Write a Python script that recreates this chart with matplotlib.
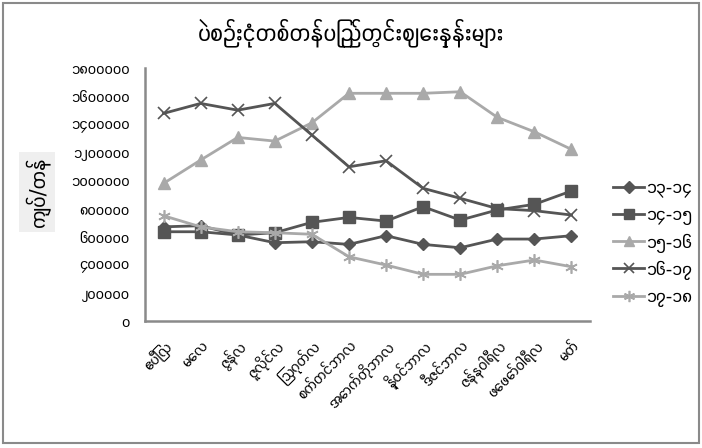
import numpy as np
import matplotlib
matplotlib.use('Agg')
import matplotlib.pyplot as plt
from matplotlib import font_manager
from fontTools.ttLib import TTFont

# pick an installed font with Myanmar glyphs, preferring narrow digit advances
mm_font = None
best = None
for f in font_manager.fontManager.ttflist:
    try:
        tt = TTFont(f.fname, fontNumber=0, lazy=True)
        cmap = tt.getBestCmap()
        if not cmap or 0x1000 not in cmap or 0x1040 not in cmap:
            continue
        upem = tt['head'].unitsPerEm
        adv = tt['hmtx'][cmap[0x1040]][0] / upem
        if best is None or adv < best:
            best = adv
            mm_font = f.name
    except Exception:
        continue
families = [mm_font, 'DejaVu Sans'] if mm_font else ['DejaVu Sans']
plt.rcParams['font.family'] = families

# data
months = ['ဧပြီလ', 'မေလ', 'ဇွန်လ', 'ဇူလိုင်လ', 'ဩဂုတ်လ', 'စက်တင်ဘာလ',
          'အောက်တိုဘာလ', 'နိုဝင်ဘာလ', 'ဒီဇင်ဘာလ', 'ဇန်နဝါရီလ', 'ဖေဖော်ဝါရီလ', 'မတ်']
y13_14 = [670000, 678000, 612000, 557000, 564000, 545000, 607000, 545000, 521000, 583000, 583000, 607000]
y14_15 = [635000, 635000, 612000, 628000, 702000, 737000, 711000, 813000, 718000, 790000, 830000, 925000]
y15_16 = [979000, 1145000, 1306000, 1280000, 1410000, 1620000, 1620000, 1620000, 1631000, 1449000, 1346000, 1221000]
y16_17 = [1477000, 1548000, 1500000, 1548000, 1323000, 1097000, 1140000, 944000, 873000, 800000, 785000, 754000]
y17_18 = [749000, 670000, 635000, 628000, 617000, 457000, 398000, 332000, 332000, 393000, 434000, 386000]
series_names = ['၁၃-၁၄', '၁၄-၁၅', '၁၅-၁၆', '၁၆-၁၇', '၁၇-၁၈']
yticks = [0, 200000, 400000, 600000, 800000, 1000000, 1200000, 1400000, 1600000, 1800000]
ytick_labels = ['၀', '၂၀၀၀၀၀', '၄၀၀၀၀၀', '၆၀၀၀၀၀', '၈၀၀၀၀၀', '၁၀၀၀၀၀၀',
                '၁၂၀၀၀၀၀', '၁၄၀၀၀၀၀', '၁၆၀၀၀၀၀', '၁၈၀၀၀၀၀']
title = 'ပဲစဉ်းငုံတစ်တန်ပြည်တွင်းဈေးနှုန်းများ'
ylabel = 'ကျပ်/တန်'

dark = '#555555'
light = '#a9a9a9'

fig = plt.figure(figsize=(7.02, 4.48), dpi=100)
ax = fig.add_axes([145/702, 1-321/448, (590-145)/702, (321-68)/448])

x = np.arange(len(months))
styles = [
    (y13_14, dark, 'D', 6.5, {}),
    (y14_15, dark, 's', 8, {}),
    (y15_16, light, '^', 8, {}),
    (y16_17, dark, 'x', 8, {'markeredgewidth': 1.2}),
    (y17_18, light, (6, 2, 0), 9, {'markeredgewidth': 1.2}),
]
handles = []
for (vals, col, mk, ms, extra), name in zip(styles, series_names):
    ln, = ax.plot(x, vals, color=col, lw=2.0, marker=mk, markersize=ms,
                  markerfacecolor=col, markeredgecolor=col, label=name, **extra)
    handles.append(ln)

ax.set_xlim(-0.5, 11.5)
ax.set_ylim(0, 1800000)
ax.set_yticks(yticks)
ax.set_yticklabels(ytick_labels, fontsize=11)
ax.set_xticks(x)
ax.set_xticklabels(months, rotation=45, ha='right', va='top', rotation_mode='anchor', fontsize=11)
ax.tick_params(length=0)
ax.tick_params(axis='y', pad=11)
ax.tick_params(axis='x', pad=12)
for s in ['top', 'right']:
    ax.spines[s].set_visible(False)
for s in ['left', 'bottom']:
    ax.spines[s].set_color('#8a8a8a')
    ax.spines[s].set_linewidth(1.8)

fig.text(351/702, 1-33/448, title, ha='center', va='center', fontsize=17)
fig.text(37/702, 1-192/448, ylabel, ha='center', va='center', rotation=90, fontsize=15,
         bbox=dict(boxstyle='square,pad=0.25', facecolor='#efefef', edgecolor='none'))

fig.legend(handles=handles, loc='upper left', bbox_to_anchor=(606/702, 1-172/448),
           frameon=False, fontsize=13, handlelength=1.7, handletextpad=0.1,
           labelspacing=0.45, borderaxespad=0, markerscale=0.9)

# outer frame
frame = plt.Rectangle((3/702, 5/448), 696/702, 440/448, transform=fig.transFigure,
                      fill=False, edgecolor='#8a8a8a', linewidth=1.5)
fig.add_artist(frame)

fig.savefig('out.png', dpi=100)
